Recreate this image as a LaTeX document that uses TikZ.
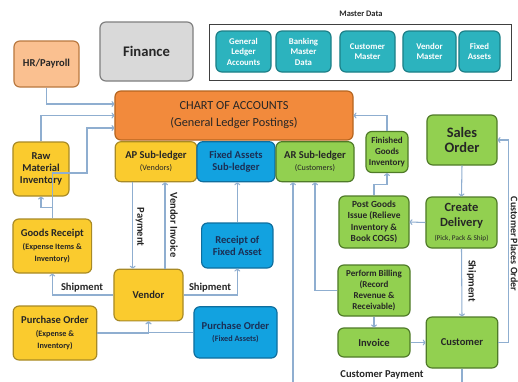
\documentclass[tikz,border=0pt]{standalone}
\usepackage{fontspec}
\setmainfont{Carlito}
\usetikzlibrary{arrows.meta}

\definecolor{hrFill}{HTML}{FAC090}
\definecolor{hrLine}{HTML}{B9783F}
\definecolor{greyFill}{HTML}{D9D9D9}
\definecolor{greyLine}{HTML}{7F7F7F}
\definecolor{frameGrey}{HTML}{404040}
\definecolor{tealFill}{HTML}{2CB3BE}
\definecolor{tealLine}{HTML}{1C7F87}
\definecolor{chartFill}{HTML}{F28A3C}
\definecolor{chartLine}{HTML}{B5651F}
\definecolor{yelFill}{HTML}{FACB2E}
\definecolor{yelLine}{HTML}{A88A25}
\definecolor{bluFill}{HTML}{12A2E0}
\definecolor{bluLine}{HTML}{0E6E9E}
\definecolor{grnFill}{HTML}{92D050}
\definecolor{grnLine}{HTML}{4F7A28}
\definecolor{linkBlue}{HTML}{8FAED0}
\definecolor{txtDark}{HTML}{262626}
\definecolor{txtNavy}{HTML}{1B2F55}

\newcommand{\smalltxt}[1]{{\fontsize{7}{8.5}\selectfont #1}}

\tikzset{
  box/.style={draw, rounded corners=5pt, line width=1pt, align=center, inner sep=1pt,
    text=txtDark, font=\bfseries\fontsize{9}{10.5}\selectfont},
  hrbox/.style={box, fill=hrFill, draw=hrLine},
  greybox/.style={box, fill=greyFill, draw=greyLine, font=\bfseries\fontsize{12.5}{14}\selectfont},
  tealbox/.style={box, fill=tealFill, draw=tealLine, text=white, font=\bfseries\fontsize{7.5}{9}\selectfont},
  chartbox/.style={box, fill=chartFill, draw=chartLine, font=\fontsize{10.5}{14.5}\selectfont},
  yelbox/.style={box, fill=yelFill, draw=yelLine},
  blubox/.style={box, fill=bluFill, draw=bluLine, text=txtNavy},
  grnbox/.style={box, fill=grnFill, draw=grnLine},
  link/.style={draw=linkBlue, line width=0.9pt, -{To[length=2.5pt,width=5pt]}},
  lbl/.style={text=txtDark, inner sep=0pt, font=\bfseries\fontsize{9}{10}\selectfont}
}

\begin{document}
\begin{tikzpicture}[x=0.03cm, y=-0.03cm]

%Frame
\clip (0,0) rectangle (518,381);
\fill[white] (0,0) rectangle (518,381);

%Top row
\node (hr) at (46.5,64) [hrbox, minimum width=1.95cm, minimum height=1.38cm] {HR/Payroll};
\node (finance) at (146.5,51.5) [greybox, minimum width=2.79cm, minimum height=1.77cm] {Finance};

%Master data
\node (masterLbl) at (361,14) [lbl, font=\bfseries\fontsize{7.2}{8}\selectfont] {Master Data};
\node (masterBox) at (360,52) [draw=frameGrey, line width=0.8pt, minimum width=9.06cm, minimum height=1.68cm] {};
\node (glAcc) at (243.5,51.5) [tealbox, minimum width=1.65cm, minimum height=1.23cm] {General\\Ledger\\Accounts};
\node (bankMaster) at (303.5,51.5) [tealbox, minimum width=1.65cm, minimum height=1.23cm] {Banking\\Master\\Data};
\node (custMaster) at (367.5,51.5) [tealbox, minimum width=1.65cm, minimum height=1.23cm] {Customer\\Master};
\node (vendMaster) at (429.5,51.5) [tealbox, minimum width=1.59cm, minimum height=1.23cm] {Vendor\\Master};
\node (assetMaster) at (479.5,51.5) [tealbox, minimum width=1.23cm, minimum height=1.23cm] {Fixed\\Assets};

%Ledgers
\node (chart) at (234,115.5) [chartbox, minimum width=7.14cm, minimum height=1.47cm] {CHART OF ACCOUNTS\\(General Ledger Postings)};
\node (apSub) at (156,161.7) [yelbox, minimum width=2.45cm, minimum height=1.2cm] {AP Sub-ledger\\\smalltxt{\mdseries(Vendors)}};
\node (faSub) at (236,161.7) [blubox, minimum width=2.34cm, minimum height=1.2cm] {Fixed Assets\\Sub-ledger};
\node (arSub) at (315,161.7) [grnbox, minimum width=2.34cm, minimum height=1.2cm] {AR Sub-ledger\\\smalltxt{\mdseries(Customers)}};

%Purchasing side
\node (rawInv) at (41,169) [yelbox, minimum width=1.68cm, minimum height=1.62cm] {Raw\\Material\\Inventory};
\node (goodsRcpt) at (52.3,246) [yelbox, minimum width=2.36cm, minimum height=1.62cm] {Goods Receipt\\\smalltxt{(Expense Items \&}\\\smalltxt{Inventory)}};
\node (vendor) at (148.5,295) [yelbox, minimum width=2.07cm, minimum height=1.55cm] {Vendor};
\node (poExp) at (55,333) [yelbox, minimum width=2.51cm, minimum height=1.62cm] {Purchase Order\\\smalltxt{(Expense \&}\\\smalltxt{Inventory)}};
\node (assetRcpt) at (237.3,245.5) [blubox, minimum width=2.14cm, minimum height=1.35cm] {Receipt of\\Fixed Asset};
\node (poAsset) at (235.5,332.4) [blubox, minimum width=2.49cm, minimum height=1.54cm] {Purchase Order\\\smalltxt{(Fixed Assets)}};

%Sales side
\node (fgInv) at (387,152) [grnbox, minimum width=1.26cm, minimum height=1.23cm, font=\bfseries\fontsize{7.7}{9}\selectfont] {Finished\\Goods\\Inventory};
\node (salesOrd) at (462,140) [grnbox, minimum width=2.1cm, minimum height=1.5cm, font=\bfseries\fontsize{12.3}{13.6}\selectfont] {Sales\\Order};
\node (delivery) at (461.5,222.5) [grnbox, minimum width=2.13cm, minimum height=1.53cm, font=\bfseries\fontsize{10.7}{12.5}\selectfont] {Create\\Delivery\\{\mdseries\fontsize{6.2}{8}\selectfont(Pick, Pack \& Ship)}};
\node (pgi) at (374,222) [grnbox, minimum width=2.1cm, minimum height=1.56cm, font=\bfseries\fontsize{8}{9.8}\selectfont] {Post Goods\\Issue (Relieve\\Inventory \&\\Book COGS)};
\node (billing) at (374,290.5) [grnbox, minimum width=2.16cm, minimum height=1.53cm, font=\bfseries\fontsize{7.7}{9.6}\selectfont] {Perform Billing\\(Record\\Revenue \&\\Receivable)};
\node (invoice) at (374,342.5) [grnbox, minimum width=2.16cm, minimum height=0.87cm] {Invoice};
\node (customer) at (462,342.5) [grnbox, minimum width=2.15cm, minimum height=1.53cm] {Customer};

%Labels
\node (payLbl) at (140,227) [lbl, rotate=-90] {Payment};
\node (vinvLbl) at (174,225) [lbl, rotate=-90] {Vendor Invoice};
\node (shipLeftLbl) at (82,288) [lbl] {Shipment};
\node (shipRightLbl) at (210,288) [lbl] {Shipment};
\node (shipCustLbl) at (471.5,281) [lbl, rotate=-90] {Shipment};
\node (placeLbl) at (514.3,244) [lbl, rotate=-90, font=\bfseries\fontsize{8.5}{10}\selectfont] {Customer Places Order};
\node (payCustLbl) at (382,375) [lbl] {Customer Payment};

%Links
\draw[link] (hr.south) |- (chart.west |- 0,104);
\draw[link] (rawInv.north) |- (chart.west);
\draw[link] (goodsRcpt.north) |- (87,173) |- (chart.west |- 0,128);
\draw[link] (goodsRcpt.north) -- ++(0,-11) -| (rawInv.south);
\draw[link] (apSub.south -| 132.7,0) -- (vendor.north -| 132.7,0);
\draw[link] (vendor.north -| 165,0) -- (apSub.south -| 165,0);
\draw[link] (vendor.west) -| (goodsRcpt.south);
\draw[link] (vendor.east) -| (assetRcpt.south);
\draw[link] (assetRcpt.north) -- (assetRcpt.north |- faSub.south);
\draw[link] (poExp.east) -| (vendor.south);
\draw[link] (poAsset.west) -| (vendor.south);
\draw[link] (customer.south) |- (293,392) -- (arSub.south -| 293,0);
\draw[link] (billing.west) -| (arSub.south);
\draw[link] (pgi.north) -- ++(0,-11) -| (fgInv.south);
\draw[link] (fgInv.north) |- (chart.east);
\draw[link] (salesOrd.south) -- (delivery.north);
\draw[link] (delivery.west) -- (pgi.east);
\draw[link] (delivery.south) -- (customer.north);
\draw[link] (customer.east) -- ++(10.5,0) |- (salesOrd.east);
\draw[link] (billing.south) -- (invoice.north);
\draw[link] (invoice.east) -- (customer.west);

\end{tikzpicture}
\end{document}
